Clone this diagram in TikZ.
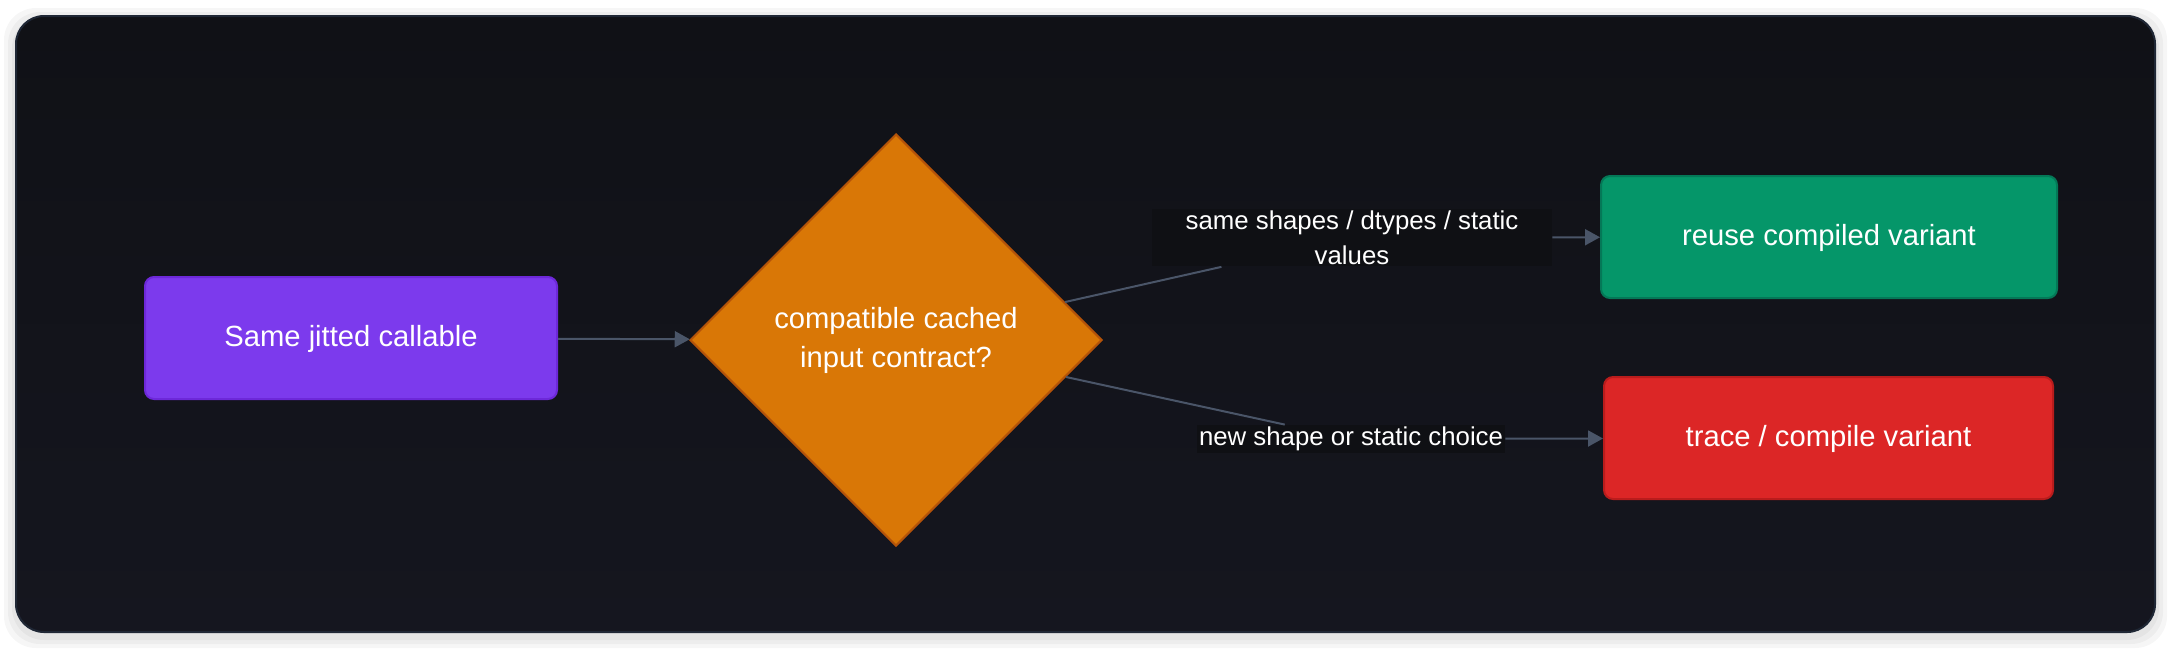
\documentclass[tikz,border=0pt]{standalone}
\usepackage{fontspec}
\setmainfont{Liberation Sans}
\usetikzlibrary{shapes.geometric,arrows.meta,positioning}
\definecolor{panelTop}{HTML}{101116}
\definecolor{panelBot}{HTML}{15161F}
\definecolor{panelLine}{HTML}{1F2735}
\definecolor{edgeGray}{HTML}{4A5568}
\definecolor{labelBg}{HTML}{0F1014}
\definecolor{startFill}{HTML}{7C3AED}
\definecolor{startLine}{HTML}{6D28D9}
\definecolor{askFill}{HTML}{D97706}
\definecolor{askLine}{HTML}{B45309}
\definecolor{okFill}{HTML}{059669}
\definecolor{okLine}{HTML}{047857}
\definecolor{newFill}{HTML}{DC2626}
\definecolor{newLine}{HTML}{B91C1C}

\begin{document}
\begin{tikzpicture}[x=0.5pt,y=-0.5pt,
  box/.style={rectangle,rounded corners=4.5pt,line width=1pt,minimum height=61pt,
    inner sep=0pt,text=white,text height=1em,text depth=0.2em,
    font=\fontsize{14.6}{19.5}\selectfont},
  ask/.style={diamond,aspect=1,minimum width=206pt,minimum height=206pt,inner sep=0pt,
    fill=askFill,draw=askLine,line width=1pt,text=white,align=center,
    font=\fontsize{14.6}{19.5}\selectfont},
  edgelabel/.style={fill=labelBg,text=white,inner sep=1pt,align=center,
    font=\fontsize{12.9}{17.5}\selectfont},
  flow/.style={draw=edgeGray,line width=1pt,-{Triangle[length=7.5pt,width=8pt]}}]
\useasboundingbox (0,0) rectangle (2172,650);
\fill[white] (0,0) rectangle (2172,650);
% soft shadow and panel
\foreach \s in {12,8,4}
  \fill[black,opacity=0.035,rounded corners=16pt] (16-\s,16-\s+4) rectangle (2155+\s,632+\s+4);
\draw[panelLine,line width=1pt,rounded corners=14pt,top color=panelTop,bottom color=panelBot]
  (16,16) rectangle (2155,632);

\node[box,fill=startFill,draw=startLine,minimum width=206pt] (call) at (351,338) {Same jitted callable};
\node[ask] (cache) at (896,340) {compatible cached\\input contract?};
\node[box,fill=okFill,draw=okLine,minimum width=228pt] (reuse) at (1829,237) {reuse compiled variant};
\node[box,fill=newFill,draw=newLine,minimum width=224.5pt] (trace) at (1828.5,438) {trace / compile variant};

\node[edgelabel,minimum width=200pt] (same) at (1352,237.5) {same shapes / dtypes / static\\values};
\node[edgelabel] (fresh) at (1351,439) {new shape or static choice};

\draw[flow] (call) -- (cache);
\draw[draw=edgeGray,line width=1pt] (cache) -- (same);
\draw[flow] (same) -- (reuse);
\draw[draw=edgeGray,line width=1pt] (cache) -- (fresh);
\draw[flow] (fresh) -- (trace);
\end{tikzpicture}
\end{document}
